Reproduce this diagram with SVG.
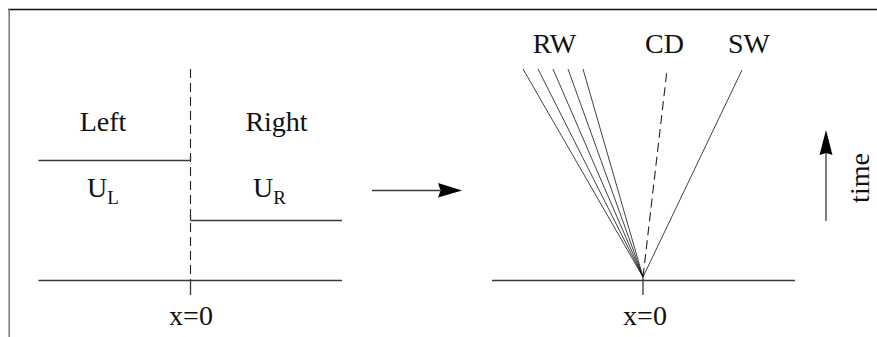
<svg xmlns="http://www.w3.org/2000/svg" width="877" height="337" viewBox="0 0 877 337">
  <style>
    .ln { stroke: #3a3a3a; stroke-width: 1.3; fill: none; }
    .dash { stroke: #222; stroke-width: 1.1; fill: none; stroke-dasharray: 9 5; }
    .fan { stroke: #111; stroke-width: 0.8; fill: none; }
    .lbl { font-family: "Liberation Serif", "Times New Roman", serif; font-size: 28px; fill: #111; }
    .sub { font-size: 19px; }
    .head { fill: #000; stroke: none; }
  </style>
  <rect width="877" height="337" fill="#fff"/>

  <!-- frame -->
  <g id="frame">
    <line x1="8" y1="9.5" x2="877" y2="9.5" stroke="#111" stroke-width="1.6"/>
    <line x1="9.2" y1="9" x2="9.2" y2="337" stroke="#777" stroke-width="1.5"/>
  </g>

  <!-- initial state: left/right states split at x=0 -->
  <g id="initial-state">
    <line class="dash" x1="190.5" y1="69" x2="190.5" y2="280"/>
    <line class="ln" x1="38.5" y1="160.5" x2="190.5" y2="160.5"/>
    <line class="ln" x1="190.5" y1="160.5" x2="190.5" y2="156"/>
    <line class="ln" x1="190.5" y1="220.5" x2="342" y2="220.5"/>
    <line class="ln" x1="190.5" y1="220.5" x2="190.5" y2="215"/>
    <line class="ln" x1="38.5" y1="280.5" x2="342" y2="280.5"/>
    <line class="ln" x1="190.5" y1="280" x2="190.5" y2="295"/>
    <text class="lbl" x="103" y="130.5" text-anchor="middle">Left</text>
    <text class="lbl" x="276.5" y="130.5" text-anchor="middle">Right</text>
    <text class="lbl" x="87" y="197">U<tspan class="sub" dy="7">L</tspan></text>
    <text class="lbl" x="253" y="197">U<tspan class="sub" dy="7">R</tspan></text>
    <text class="lbl" x="191" y="325" text-anchor="middle" font-size="27">x=0</text>
  </g>

  <!-- evolution arrow -->
  <g id="connectors">
    <line class="ln" x1="372" y1="190.5" x2="440" y2="190.5"/>
    <polygon class="head" points="438,183 462,190.5 438,197.5 440.5,190.5"/>
  </g>

  <!-- wave structure in the x-t plane -->
  <g id="wave-fan">
    <line class="ln" x1="492" y1="280.5" x2="795" y2="280.5"/>
    <line class="ln" x1="643" y1="276" x2="643" y2="295"/>
    <line class="fan" x1="643" y1="277" x2="523" y2="69"/>
    <line class="fan" x1="643" y1="277" x2="538" y2="69"/>
    <line class="fan" x1="643" y1="277" x2="553" y2="69"/>
    <line class="fan" x1="643" y1="277" x2="568" y2="69"/>
    <line class="fan" x1="643" y1="277" x2="583" y2="69"/>
    <line class="dash" x1="643" y1="277" x2="667" y2="70"/>
    <line class="fan" x1="643" y1="277" x2="742" y2="70"/>
    <text class="lbl" x="554.5" y="53" text-anchor="middle">RW</text>
    <text class="lbl" x="664.5" y="53" text-anchor="middle">CD</text>
    <text class="lbl" x="749" y="53" text-anchor="middle">SW</text>
    <text class="lbl" x="645" y="325" text-anchor="middle" font-size="27">x=0</text>
  </g>

  <!-- time axis -->
  <g id="time-axis">
    <line class="ln" x1="826" y1="221" x2="826" y2="150"/>
    <polygon class="head" points="826,130 832.5,155 826,153 819.5,155"/>
    <text class="lbl" transform="translate(869,178) rotate(-90)" text-anchor="middle" font-size="29">time</text>
  </g>
</svg>
